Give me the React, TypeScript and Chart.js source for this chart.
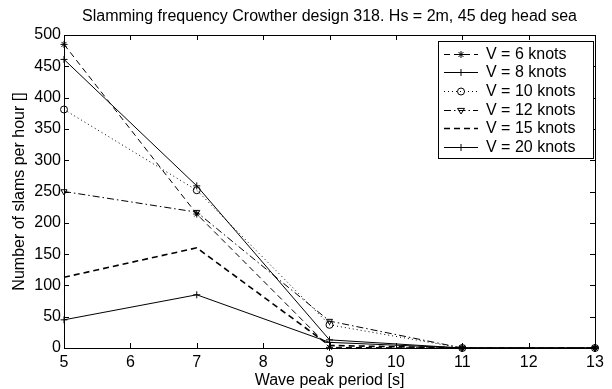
import React, { useEffect, useRef } from "react";
import { Chart, registerables } from "chart.js";

Chart.register(...registerables);

const periods = [5, 7, 9, 11, 13];
const v6 = [485, 214, 1, 0, 0];
const v8 = [461, 259, 13, 0, 0];
const v10 = [381, 252, 37, 0, 0];
const v12 = [250, 217, 43, 0, 0];
const v15 = [113, 160, 4, 0, 0];
const v20 = [45, 85, 9, 0, 0];

const seriesLabels = ["V = 6 knots", "V = 8 knots", "V = 10 knots", "V = 12 knots", "V = 15 knots", "V = 20 knots"];
const xTicks = [5, 6, 7, 8, 9, 10, 11, 12, 13];
const yTicks = [0, 50, 100, 150, 200, 250, 300, 350, 400, 450, 500];
const titleText = "Slamming frequency Crowther design 318. Hs = 2m, 45 deg head sea";
const xTitle = "Wave peak period [s]";
const yTitle = "Number of slams per hour []";

const FONT = "'Liberation Sans', Arial, Helvetica, sans-serif";
const FS = 16;

type Style = { dash: number[]; width: number; point: string | false; rot: number };
const styles: Style[] = [
  { dash: [6, 4], width: 1, point: "star", rot: 0 },
  { dash: [], width: 1, point: "cross", rot: 0 },
  { dash: [1, 3], width: 1, point: "circle", rot: 0 },
  { dash: [7, 3, 1.5, 3], width: 1, point: "triangle", rot: 180 },
  { dash: [6, 4], width: 1.6, point: false, rot: 0 },
  { dash: [], width: 1, point: "cross", rot: 0 },
];

function drawMarker(ctx: CanvasRenderingContext2D, kind: string | false, x: number, y: number, r: number) {
  if (!kind) return;
  ctx.save();
  ctx.setLineDash([]);
  ctx.lineWidth = 1;
  ctx.strokeStyle = "#000";
  ctx.beginPath();
  if (kind === "cross" || kind === "star") {
    ctx.moveTo(x - r, y); ctx.lineTo(x + r, y);
    ctx.moveTo(x, y - r); ctx.lineTo(x, y + r);
    if (kind === "star") {
      const d = r * 0.707;
      ctx.moveTo(x - d, y - d); ctx.lineTo(x + d, y + d);
      ctx.moveTo(x - d, y + d); ctx.lineTo(x + d, y - d);
    }
  } else if (kind === "circle") {
    ctx.arc(x, y, r, 0, Math.PI * 2);
  } else if (kind === "triangle") {
    ctx.moveTo(x - r, y - r * 0.6);
    ctx.lineTo(x + r, y - r * 0.6);
    ctx.lineTo(x, y + r);
    ctx.closePath();
  }
  ctx.stroke();
  ctx.restore();
}

const decorPlugin = {
  id: "decor",
  afterDraw(chart: any) {
    const ctx: CanvasRenderingContext2D = chart.ctx;
    const a = chart.chartArea;
    const xs = chart.scales.x;
    const ys = chart.scales.y;
    ctx.save();
    ctx.strokeStyle = "#000";
    ctx.lineWidth = 1;
    ctx.setLineDash([]);
    ctx.strokeRect(Math.round(a.left) + 0.5, Math.round(a.top) + 0.5, Math.round(a.right - a.left), Math.round(a.bottom - a.top));
    const tl = 5;
    ctx.beginPath();
    xTicks.forEach((t) => {
      const px = Math.round(xs.getPixelForValue(t)) + 0.5;
      ctx.moveTo(px, a.bottom); ctx.lineTo(px, a.bottom - tl);
      ctx.moveTo(px, a.top); ctx.lineTo(px, a.top + tl);
    });
    yTicks.forEach((t) => {
      const py = Math.round(ys.getPixelForValue(t)) + 0.5;
      ctx.moveTo(a.left, py); ctx.lineTo(a.left + tl, py);
      ctx.moveTo(a.right, py); ctx.lineTo(a.right - tl, py);
    });
    ctx.stroke();

    ctx.fillStyle = "#000";
    ctx.font = FS + "px " + FONT;
    ctx.textAlign = "center";
    ctx.textBaseline = "middle";
    ctx.fillText(titleText, (a.left + a.right) / 2, 17);
    ctx.fillText(xTitle, (a.left + a.right) / 2, 381);
    ctx.save();
    ctx.translate(20, (a.top + a.bottom) / 2);
    ctx.rotate(-Math.PI / 2);
    ctx.fillText(yTitle, 0, 0);
    ctx.restore();

    const lx = 438, ly = 41, lw = 155, lh = 117;
    ctx.fillStyle = "#fff";
    ctx.fillRect(lx, ly, lw, lh);
    ctx.strokeRect(lx + 0.5, ly + 0.5, lw, lh);
    ctx.fillStyle = "#000";
    ctx.textAlign = "left";
    seriesLabels.forEach((lab, i) => {
      const cy = Math.round(53.5 + i * 18.7);
      const st = styles[i];
      ctx.save();
      ctx.lineWidth = st.width;
      ctx.setLineDash(st.dash);
      ctx.beginPath();
      ctx.moveTo(444, cy + 0.5);
      ctx.lineTo(478, cy + 0.5);
      ctx.stroke();
      ctx.restore();
      drawMarker(ctx, st.point, 461, cy + 0.5, 3.5);
      ctx.fillText(lab, 486, cy + 1);
    });
    ctx.restore();
  },
};

export default function App() {
  const ref = useRef<HTMLCanvasElement | null>(null);
  useEffect(() => {
    document.body.style.margin = "0";
    const series = [v6, v8, v10, v12, v15, v20];
    const datasets = series.map((vals, i) => {
      const st = styles[i];
      return {
        label: seriesLabels[i],
        data: vals.map((v, j) => ({ x: periods[j], y: v })),
        borderColor: "#000",
        borderWidth: st.width,
        borderDash: st.dash,
        backgroundColor: "#000",
        pointStyle: st.point === false ? "circle" : st.point,
        pointRadius: st.point === false ? 0 : 3.5,
        pointRotation: st.rot,
        pointBorderColor: "#000",
        pointBackgroundColor: "rgba(0,0,0,0)",
        pointBorderWidth: 1,
        tension: 0,
        fill: false,
        clip: false as any,
      };
    });
    const chart = new Chart(ref.current as HTMLCanvasElement, {
      type: "line",
      data: { datasets: datasets as any },
      options: {
        animation: false,
        responsive: false,
        devicePixelRatio: 1,
        layout: { padding: { top: 35, right: 17, left: 0, bottom: 0 } },
        plugins: { legend: { display: false }, title: { display: false }, tooltip: { enabled: false } },
        scales: {
          x: {
            type: "linear",
            min: 5,
            max: 13,
            grid: { display: false, drawTicks: false },
            border: { display: false },
            afterFit: (s: any) => { s.height = 41; },
            afterBuildTicks: (s: any) => { s.ticks = xTicks.map((v) => ({ value: v })); },
            ticks: { color: "#000", font: { size: FS, family: FONT }, padding: 5, maxRotation: 0, autoSkip: false },
          },
          y: {
            type: "linear",
            min: 0,
            max: 500,
            grid: { display: false, drawTicks: false },
            border: { display: false },
            afterFit: (s: any) => { s.width = 64; },
            afterBuildTicks: (s: any) => { s.ticks = yTicks.map((v) => ({ value: v })); },
            ticks: { color: "#000", font: { size: FS, family: FONT }, padding: 3, autoSkip: false },
          },
        },
      },
      plugins: [decorPlugin],
    });
    return () => chart.destroy();
  }, []);
  return (
    <div style={{ position: "absolute", left: 0, top: 0, width: 612, height: 389, background: "#fff" }}>
      <canvas ref={ref} width={612} height={389} style={{ width: 612, height: 389, display: "block" }} />
    </div>
  );
}
